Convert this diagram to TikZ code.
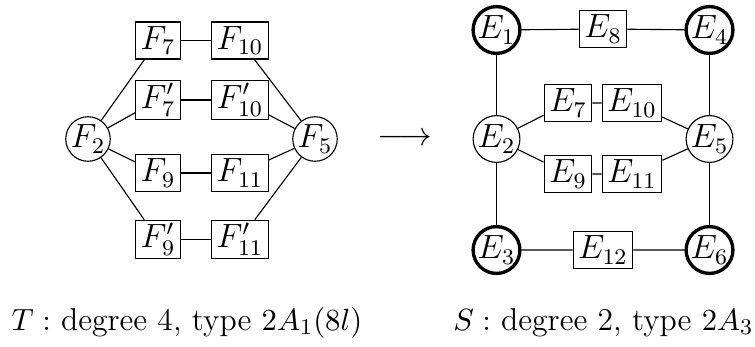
\documentclass[tikz,border=0pt]{standalone}
\begin{document}
\begin{tikzpicture}[x=0.357pt,y=-0.357pt,
  every node/.append style={font=\fontsize{11.7}{14}\selectfont},
  captxt/.style={font=\fontsize{11.3}{13.5}\selectfont,inner sep=0pt},
  bx/.style={draw,rectangle,inner xsep=1.8pt,inner ysep=1pt,minimum height=13.2pt},
  fc/.style={draw,circle,inner sep=0pt,minimum size=15pt},
  ec/.style={draw,circle,inner sep=0pt,minimum size=15.8pt},
  tc/.style={draw,circle,inner sep=0pt,minimum size=15pt,line width=1.2pt}]
\useasboundingbox (0,0) rectangle (755,346);
% left diagram
\node[bx] (F7) at (158,40.5) {$F_7$};
\node[bx] (F10) at (240,40.5) {$F_{10}$};
\node[bx] (F7p) at (158,100) {$F'_7$};
\node[bx] (F10p) at (240,100) {$F'_{10}$};
\node[bx] (F9) at (158,173) {$F_9$};
\node[bx] (F11) at (240,173) {$F_{11}$};
\node[bx] (F9p) at (158,239.5) {$F'_9$};
\node[bx] (F11p) at (240,239.5) {$F'_{11}$};
\node[fc] (F2) at (88,139) {$F_2$};
\node[fc] (F5) at (315,139) {$F_5$};
\draw (F7) -- (F10) (F7p) -- (F10p) (F9) -- (F11) (F9p) -- (F11p);
\draw (F2) -- (F7) (F2) -- (F7p) (F2) -- (F9) (F2) -- (F9p);
\draw (F5) -- (F10) (F5) -- (F10p) (F5) -- (F11) (F5) -- (F11p);
% arrow
\node (arr) at (405,139) {$\longrightarrow$};
% right diagram
\node[tc] (E1) at (496.5,30) {$E_1$};
\node[bx] (E8) at (603,29) {$E_8$};
\node[tc] (E4) at (709.5,30) {$E_4$};
\node[bx] (E7) at (568,103) {$E_7$};
\node[bx] (E10) at (632,103) {$E_{10}$};
\node[ec] (E2) at (496.5,139) {$E_2$};
\node[ec] (E5) at (709.5,139) {$E_5$};
\node[bx] (E9) at (568,174) {$E_9$};
\node[bx] (E11) at (632,174) {$E_{11}$};
\node[tc] (E3) at (496.5,250) {$E_3$};
\node[bx] (E12) at (603,250) {$E_{12}$};
\node[tc] (E6) at (709.5,250) {$E_6$};
\draw (E1) -- (E8) -- (E4) (E3) -- (E12) -- (E6);
\draw (E1) -- (E2) -- (E3) (E4) -- (E5) -- (E6);
\draw (E2) -- (E7) -- (E10) -- (E5) (E2) -- (E9) -- (E11) -- (E5);
% captions
\node[captxt,anchor=base west] (capT) at (11,330) {$T:$ degree 4, type $2A_1(8l)$};
\node[captxt,anchor=base east] (capS) at (754,330) {$S:$ degree 2, type $2A_3$};
\end{tikzpicture}
\end{document}
